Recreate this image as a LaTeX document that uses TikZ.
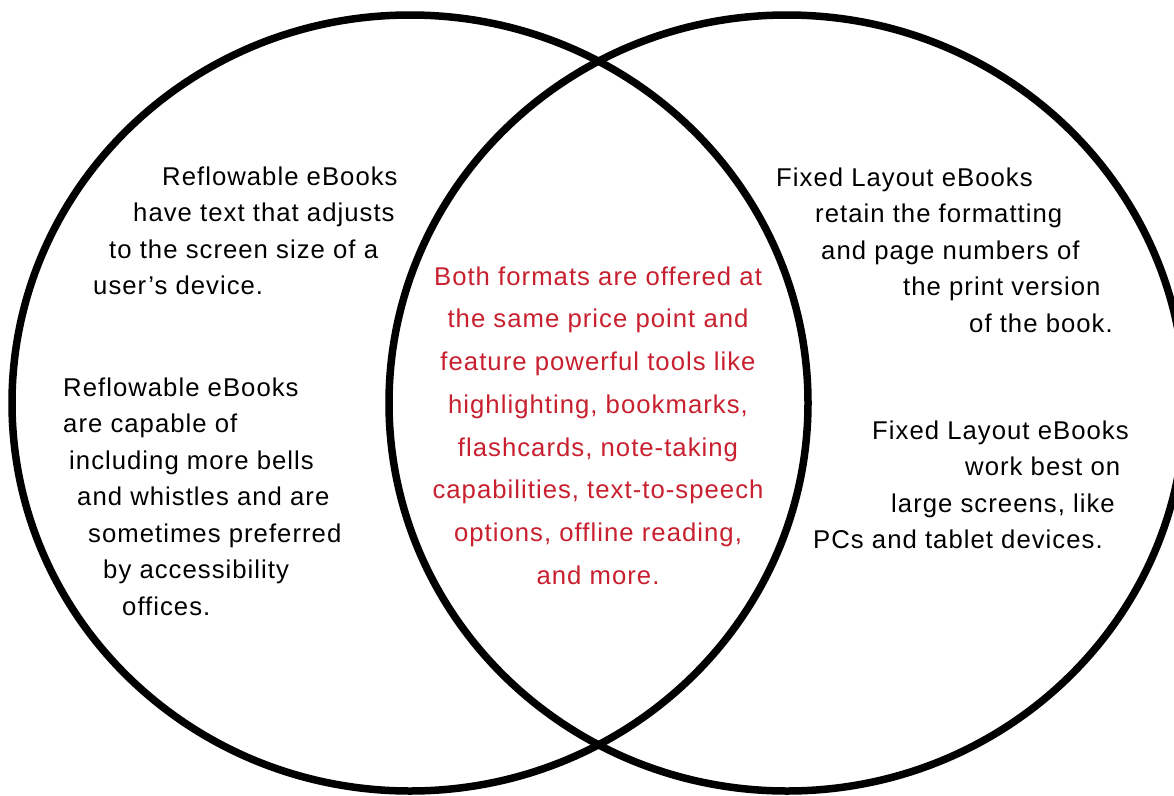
\documentclass[tikz,border=0pt]{standalone}
\usepackage{fontspec}
\setmainfont[LetterSpace=4]{Liberation Sans}
\definecolor{redtxt}{RGB}{200,32,46}
\begin{document}
\begin{tikzpicture}[x=1pt,y=-1pt,
  ring/.style={draw=black,line width=7.5pt},
  txt/.style={font=\fontsize{25.7}{30}\selectfont,inner sep=0pt,anchor=base west,text=black},
  ctxt/.style={font=\fontsize{25.7}{30}\selectfont,inner sep=0pt,anchor=base,text=redtxt}]
\useasboundingbox (0,0) rectangle (1174,795);
\fill[white] (0,0) rectangle (1174,795);
\draw[ring] (410,403) ellipse [x radius=398, y radius=388];
\draw[ring] (787,403) ellipse [x radius=398, y radius=388];
% left upper block
\node[txt] (l1a) at (162,185) {Reflowable eBooks};
\node[txt] (l1b) at (133,221.5) {have text that adjusts};
\node[txt] (l1c) at (109,258) {to the screen size of a};
\node[txt] (l1d) at (93,294.5) {user’s device.};
% left lower block
\node[txt] (l2a) at (63,396) {Reflowable eBooks};
\node[txt] (l2b) at (63,432.5) {are capable of};
\node[txt] (l2c) at (69,469) {including more bells};
\node[txt] (l2d) at (77,505.5) {and whistles and are};
\node[txt] (l2e) at (88,542) {sometimes preferred};
\node[txt] (l2f) at (103,578.5) {by accessibility};
\node[txt] (l2g) at (122,615) {offices.};
% centre block
\node[ctxt] (c1) at (598,285) {Both formats are offered at};
\node[ctxt] (c2) at (598,327.8) {the same price point and};
\node[ctxt] (c3) at (598,370.6) {feature powerful tools like};
\node[ctxt] (c4) at (598,413.4) {highlighting, bookmarks,};
\node[ctxt] (c5) at (598,456) {flashcards, note-taking};
\node[ctxt] (c6) at (598,498.8) {capabilities, text-to-speech};
\node[ctxt] (c7) at (598,541.6) {options, offline reading,};
\node[ctxt] (c8) at (598,584.4) {and more.};
% right upper block
\node[txt] (r1a) at (776,186) {Fixed Layout eBooks};
\node[txt] (r1b) at (815,222.5) {retain the formatting};
\node[txt] (r1c) at (821,259) {and page numbers of};
\node[txt] (r1d) at (903,295.5) {the print version};
\node[txt] (r1e) at (969,332) {of the book.};
% right lower block
\node[txt] (r2a) at (872,439) {Fixed Layout eBooks};
\node[txt] (r2b) at (965,475.5) {work best on};
\node[txt] (r2c) at (891,512) {large screens, like};
\node[txt] (r2d) at (813,548.5) {PCs and tablet devices.};
\end{tikzpicture}
\end{document}
